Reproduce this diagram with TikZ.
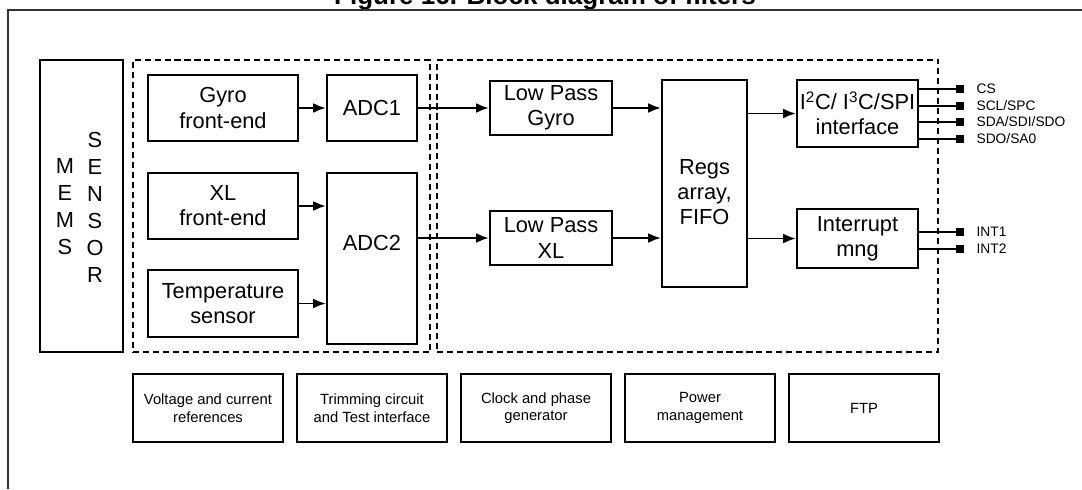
\documentclass[tikz,border=0pt]{standalone}
\usepackage{fontspec}
\setmainfont{Liberation Sans}
\usetikzlibrary{arrows.meta}

\newcommand{\blkfont}{\fontsize{15.5}{17.8}\selectfont}
\newcommand{\memsfont}{\fontsize{15.5}{19.2}\selectfont}
\newcommand{\auxfont}{\fontsize{10.5}{12.4}\selectfont}
\newcommand{\pinfont}{\fontsize{9.8}{11}\selectfont}
\newcommand{\titlefont}{\fontsize{18.5}{22}\selectfont\bfseries}

\begin{document}
\begin{tikzpicture}[
    x=0.025cm, y=-0.025cm,
    font=\blkfont,
    blk/.style={draw, line width=1.6pt, rectangle, align=center, inner sep=1pt},
    fe/.style={blk, minimum width=3.75cm, minimum height=1.65cm},
    lp/.style={blk, minimum width=3.05cm, minimum height=1.35cm},
    grp/.style={draw, line width=1.4pt, dash pattern=on 4.3pt off 2.8pt,
                rectangle, inner sep=0pt},
    aux/.style={blk, font=\auxfont, minimum width=3.75cm, minimum height=1.7cm},
    arr/.style={-{Latex[length=9pt, width=7pt]}, line width=1.4pt},
    wire/.style={line width=1.4pt},
    pin/.style={fill, rectangle, minimum size=0.2cm, inner sep=0pt},
    pinlbl/.style={font=\pinfont, inner sep=0pt, anchor=west},
    frame/.style={line width=1.1pt, black!80},
  ]

  \useasboundingbox (0,0) rectangle (1082,489);

  %% ================================================================
  %% Page frame and (cut) title
  %% ================================================================
  \begin{scope}
    \clip (0,0) rectangle (1082,489);
    \node[font=\titlefont, anchor=base, inner sep=0pt] (title) at (545,4)
      {Figure 16. Block diagram of filters};
  \end{scope}
  \draw[frame] (1082,10) -- (8,10) -- (8,489);

  %% ================================================================
  %% MEMS sensor
  %% ================================================================
  \node[blk, minimum width=2.075cm, minimum height=7.3cm] (mems) at (81.5,206) {};
  \node[font=\memsfont, align=center, inner sep=0pt] (memsL) at (65,207)
    {M\\E\\M\\S};
  \node[font=\memsfont, align=center, inner sep=0pt] (memsR) at (95,207)
    {S\\E\\N\\S\\O\\R};

  %% ================================================================
  %% Analog group
  %% ================================================================
  \node[grp, minimum width=7.425cm, minimum height=7.3cm] (grpA) at (281.5,206) {};

  \node[fe] (gyro) at (223,108)   {Gyro\\front-end};
  \node[fe] (xl)   at (223,206)   {XL\\front-end};
  \node[fe, minimum height=1.675cm] (temp) at (223,303.5) {Temperature\\sensor};

  \node[blk, minimum width=2.25cm, minimum height=1.65cm]  (adc1) at (372,108)   {ADC1};
  \node[blk, minimum width=2.25cm, minimum height=4.275cm] (adc2) at (372,258.5) {};
  \node[inner sep=0pt] (adc2txt) at (372,243) {ADC2};

  \draw[arr] (gyro) -- (adc1);
  \draw[arr] (xl)   -- (xl -| adc2.west);
  \draw[arr] (temp) -- (temp -| adc2.west);

  %% ================================================================
  %% Digital group
  %% ================================================================
  \node[grp, minimum width=12.525cm, minimum height=7.3cm] (grpB) at (687.5,206) {};

  \node[lp] (lpg) at (551,108) {Low Pass\\Gyro};
  \node[lp] (lpx) at (551,238) {Low Pass\\XL};

  \node[blk, minimum width=2.125cm, minimum height=5.175cm] (regs) at (704.5,183.5) {};
  \node[align=center, inner sep=0pt] (regstxt) at (704.5,192) {Regs\\array,\\FIFO};

  \node[blk, minimum width=3.025cm, minimum height=1.675cm] (i2c) at (857.5,113.5)
    {I\textsuperscript{2}C/ I\textsuperscript{3}C/SPI\\interface};
  \node[blk, minimum width=3.025cm, minimum height=1.475cm] (intm) at (857.5,238.5)
    {Interrupt\\mng};

  \draw[arr] (adc1) -- (lpg);
  \draw[arr] (adc2.east |- lpx) -- (lpx);
  \draw[arr] (lpg) -- (lpg -| regs.west);
  \draw[arr] (lpx) -- (lpx -| regs.west);
  \draw[arr] (regs.east |- i2c)  -- (i2c);
  \draw[arr] (regs.east |- intm) -- (intm);

  %% ================================================================
  %% Pins
  %% ================================================================
  \node[pin] (pCS)  at (960,89)  {};
  \node[pin] (pSCL) at (960,106) {};
  \node[pin] (pSDA) at (960,122) {};
  \node[pin] (pSDO) at (960,139) {};
  \node[pin] (pI1)  at (960,232) {};
  \node[pin] (pI2)  at (960,249) {};

  \node[pinlbl] (lCS)  at ([xshift=0.3cm]pCS.east)  {CS};
  \node[pinlbl] (lSCL) at ([xshift=0.3cm]pSCL.east) {SCL/SPC};
  \node[pinlbl] (lSDA) at ([xshift=0.3cm]pSDA.east) {SDA/SDI/SDO};
  \node[pinlbl] (lSDO) at ([xshift=0.3cm]pSDO.east) {SDO/SA0};
  \node[pinlbl] (lI1)  at ([xshift=0.3cm]pI1.east)  {INT1};
  \node[pinlbl] (lI2)  at ([xshift=0.3cm]pI2.east)  {INT2};

  \draw[wire] (i2c.east |- pCS)  -- (pCS);
  \draw[wire] (i2c.east |- pSCL) -- (pSCL);
  \draw[wire] (i2c.east |- pSDA) -- (pSDA);
  \draw[wire] (i2c.east |- pSDO) -- (pSDO);
  \draw[wire] (intm.east |- pI1) -- (pI1);
  \draw[wire] (intm.east |- pI2) -- (pI2);

  %% ================================================================
  %% Auxiliary blocks
  %% ================================================================
  \node[aux] (vref) at (208,408) {Voltage and current\\references};
  \node[aux] (trim) at (372,408) {Trimming circuit\\and Test interface};
  \node[aux] (clk)  at (536,408) {Clock and phase\\generator};
  \node[aux] (pwr)  at (700,408) {Power\\management};
  \node[aux] (ftp)  at (864,408) {FTP};

\end{tikzpicture}
\end{document}
